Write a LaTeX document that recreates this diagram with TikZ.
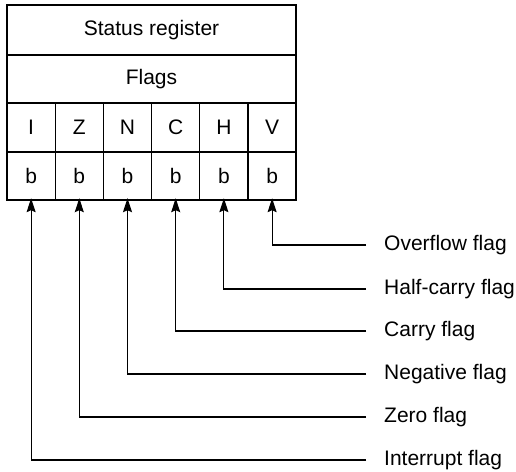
\documentclass[tikz,border=0pt]{standalone}
\usepackage{fontspec}
\setmainfont{Liberation Sans}
\usetikzlibrary{arrows.meta}
\begin{document}
\begin{tikzpicture}[x=1pt,y=-1pt,
  thinline/.style={line width=1.1pt},
  thickline/.style={line width=2.4pt},
  txt/.style={font=\fontsize{21}{25}\selectfont},
  cell/.style={txt,draw=none,minimum width=48.2pt,minimum height=48pt,inner sep=0pt},
  wide/.style={txt,draw=none,minimum width=289pt,minimum height=49pt,inner sep=0pt},
  lab/.style={txt,anchor=west,inner xsep=18pt,inner ysep=0pt},
  conn/.style={line width=1.1pt,-{Stealth[length=14pt,width=9pt,inset=2pt]}}]
\useasboundingbox (0,0) rectangle (516,471);
% rows
\node[wide] (sr) at (151.5,30) {Status register};
\node[wide] (fl) at (151.5,79) {Flags};
\foreach \n/\t [count=\i] in {I/I,Z/Z,N/N,C/C,H/H,V/V}{
  \node[cell] (t\n) at ({7+48.2*(\i-0.5)},127.5) {\t};
  \node[cell] (b\n) at ({7+48.2*(\i-0.5)},176) {b};
}
% grid lines
\draw[thinline] (7,55) -- (296,55);
\draw[thinline] (7,103) -- (296,103);
\foreach \i in {1,...,5}{
  \draw[thinline] ({7+48.2*\i},103) -- ({7+48.2*\i},200);
}
\draw[thickline] (7,152) -- (296,152);
\draw[thickline] (7,5) rectangle (296,200);
% labels
\node[lab] (lV) at (366,245) {Overflow flag};
\node[lab] (lH) at (366,289) {Half-carry flag};
\node[lab] (lC) at (366,331) {Carry flag};
\node[lab] (lN) at (366,374) {Negative flag};
\node[lab] (lZ) at (366,417) {Zero flag};
\node[lab] (lI) at (366,460) {Interrupt flag};
% connectors
\foreach \n in {V,H,C,N,Z,I}{
  \draw[conn,shorten >=-2pt] (l\n.west) -| (b\n.south);
}
\end{tikzpicture}
\end{document}
